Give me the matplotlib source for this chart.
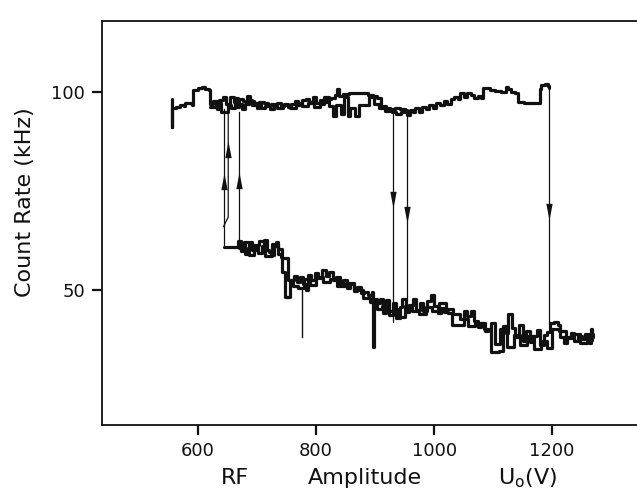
import matplotlib
matplotlib.use("Agg")
import matplotlib.pyplot as plt

plt.rcParams['font.family'] = ['DejaVu Sans']
plt.rcParams['mathtext.fontset'] = 'dejavusans'

INK = "#111111"

# upper branch (high count rate), first sweep
upper_v1 = [555, 555, 556, 562, 570, 576, 578, 586, 590, 592, 600, 606, 612, 618, 620,
            626, 632, 636, 642, 648, 654, 660, 666, 670, 676, 682, 688, 694, 700, 704,
            712, 718, 722, 728, 734, 740, 746, 752, 758, 764, 770, 776, 782, 788, 794,
            800, 806, 812, 818, 826, 832, 835, 838, 846, 856, 866, 878, 888, 896, 904,
            910, 918, 926, 934, 942, 950, 954, 960, 964, 968, 974, 980, 986, 992, 998,
            1004, 1010, 1016, 1022, 1028, 1034, 1040, 1044, 1050, 1056, 1062, 1068, 1074,
            1080, 1083, 1090, 1094, 1104, 1114, 1120, 1122, 1126, 1130, 1138, 1142, 1152,
            1164, 1176, 1179, 1182, 1188, 1193, 1194]
upper_k1 = [98.3, 91.2, 96.0, 96.3, 96.6, 96.5, 97.3, 97.2, 96.8, 100.6, 101.0, 101.2, 100.8, 100.4, 97.0,
            97.6, 95.8, 97.9, 98.6, 97.0, 98.8, 97.4, 96.3, 98.2, 97.6, 99.0, 97.8, 97.2, 95.9, 97.5,
            97.1, 96.8, 95.6, 96.6, 97.2, 96.4, 97.0, 96.2, 96.9, 97.6, 96.8, 97.9, 98.3, 97.4, 98.6,
            97.2, 98.0, 97.5, 98.1, 98.4, 99.1, 100.8, 98.9, 99.5, 99.6, 99.7, 99.6, 99.3, 99.0, 98.4,
            96.4, 95.9, 95.6, 96.0, 95.8, 95.4, 94.2, 95.4, 94.8, 95.9, 95.0, 96.3, 95.8, 96.6, 96.0,
            97.3, 96.7, 97.6, 97.0, 98.2, 98.6, 98.1, 99.8, 98.6, 99.6, 99.2, 98.5, 99.0,
            98.4, 100.9, 101.0, 100.4, 100.3, 100.1, 100.0, 101.3, 100.8, 99.9, 99.7, 97.4, 97.2,
            97.1, 97.3, 100.8, 101.8, 101.9, 101.5, 101.0]

# upper branch, second sweep
upper_v2 = [620, 630, 638, 644, 650, 656, 662, 668, 674, 680, 686, 692, 698, 706, 714,
            724, 734, 744, 756, 766, 776, 786, 796, 806, 814, 822, 828, 834, 842, 848,
            854, 858, 866, 872, 880, 890, 898, 906, 916, 928, 936, 944, 952]
upper_k2 = [96.2, 97.2, 95.0, 94.9, 96.8, 96.0, 98.4, 97.0, 95.8, 96.9, 98.0, 96.6, 97.3, 96.0, 96.5,
            97.0, 96.0, 96.6, 96.0, 97.3, 96.4, 97.2, 96.1, 97.0, 98.8, 96.5, 93.8, 96.8, 94.4, 98.6,
            94.0, 96.0, 93.8, 96.8, 96.6, 98.8, 97.0, 96.0, 95.2, 95.0, 94.4, 94.8, 94.9]

# lower branch (low count rate), first sweep
lower_v1 = [644, 666, 668, 672, 676, 680, 684, 688, 692, 698, 702, 708, 712, 716, 720,
            724, 728, 732, 736, 740, 742, 748, 748, 756, 756, 762, 768, 772, 778, 782,
            786, 792, 798, 804, 810, 816, 822, 828, 834, 840, 846, 852, 858, 864, 870,
            876, 882, 888, 894, 897, 897, 898, 904, 908, 914, 918, 924, 930, 936, 942,
            946, 952, 958, 964, 970, 976, 982, 988, 994, 1000, 1006, 1012, 1016, 1024, 1030,
            1046, 1050, 1056, 1062, 1068, 1074, 1080, 1086, 1092, 1096, 1110, 1116, 1122, 1126,
            1132, 1138, 1144, 1150, 1156, 1162, 1168, 1174, 1180, 1186, 1192, 1196, 1204, 1210,
            1214, 1220, 1226, 1232, 1238, 1244, 1250, 1256, 1262, 1266, 1268]
lower_k1 = [60.9, 60.9, 62.4, 59.8, 61.8, 59.0, 60.6, 62.0, 60.0, 60.8, 59.2, 61.2, 62.6, 60.0, 59.6,
            58.8, 61.0, 62.2, 59.0, 58.4, 54.6, 54.5, 48.2, 48.2, 52.6, 53.4, 52.0, 53.2, 51.6, 50.0,
            53.8, 52.6, 54.4, 53.0, 55.0, 53.6, 54.6, 52.4, 53.2, 51.4, 52.6, 50.6, 51.6, 49.8, 50.8,
            49.2, 49.6, 48.6, 49.4, 48.2, 35.6, 47.6, 46.6, 47.8, 44.2, 47.4, 43.6, 46.8, 43.0, 45.8,
            47.6, 44.4, 46.2, 47.8, 45.0, 46.6, 44.8, 47.2, 48.6, 46.0, 44.2, 45.4, 44.4, 44.2, 41.2,
            41.2, 44.6, 43.4, 44.8, 42.2, 40.6, 41.6, 39.6, 39.8, 34.4, 34.6, 41.0, 39.2, 43.8,
            40.4, 38.0, 41.2, 37.2, 39.6, 36.8, 38.4, 39.8, 36.2, 38.6, 39.4, 41.6, 41.8, 41.2,
            38.2, 36.6, 38.0, 39.2, 37.0, 38.4, 37.6, 38.8, 36.6, 40.2, 37.4]

# lower branch, second sweep
lower_v2 = [670, 678, 686, 694, 704, 714, 726, 736, 742, 752, 760, 770, 780, 790, 800,
            812, 824, 836, 850, 864, 880, 892, 904, 912, 920, 930, 940, 950, 962, 974,
            986, 996, 1008, 1020, 1032, 1044, 1058, 1070, 1084, 1096, 1104, 1112, 1124, 1136, 1146,
            1158, 1170, 1182, 1192, 1200, 1212, 1224, 1236, 1248, 1260, 1270]
lower_k2 = [60.6, 62.0, 58.8, 61.4, 62.4, 58.6, 61.6, 60.4, 58.0, 52.4, 51.0, 50.4, 52.8, 51.2, 53.2,
            52.0, 52.8, 51.0, 51.8, 50.0, 48.0, 47.0, 45.2, 46.0, 44.6, 45.2, 43.2, 46.0, 44.6, 44.0,
            45.6, 44.6, 46.8, 45.2, 44.0, 42.6, 40.8, 41.6, 40.2, 41.6, 36.4, 40.2, 35.6, 38.6, 36.2,
            38.4, 35.2, 37.0, 35.4, 40.2, 39.6, 37.8, 39.0, 36.6, 38.2, 39.0]

# small spike below the second plateau
spike_v = [776, 776]
spike_k = [50.0, 38.1]

# jumps between the branches (thin lines)
jump_v = [[643, 643], [643, 651, 651], [670, 670], [930, 930], [954, 954], [1194, 1194]]
jump_k = [[60.9, 95.8], [66.0, 68.4, 95.8], [61.8, 95.0], [96.0, 42.0], [95.0, 47.6], [101.0, 41.6]]

# arrow heads on the jumps
arrow_v = [643, 651, 670, 930, 954, 1194]
arrow_k = [79.5, 87.5, 79.9, 70.7, 66.9, 67.7]
arrow_up = [True, True, True, False, False, False]

x_ticks = [600, 800, 1000, 1200]
y_ticks = [50, 100]

fig = plt.figure(figsize=(6.37, 4.93), dpi=100)
ax = fig.add_axes([102 / 637, 68 / 493, 1 - 102 / 637, 404 / 493])

for vs, ks in zip(jump_v, jump_k):
    ax.plot(vs, ks, color=INK, lw=0.9)

for vs, ks in [(upper_v1, upper_k1), (upper_v2, upper_k2),
               (lower_v1, lower_k1), (lower_v2, lower_k2)]:
    ax.plot(vs, ks, color=INK, lw=2.3, drawstyle='steps-post',
            solid_joinstyle='round', solid_capstyle='round')
ax.plot(spike_v, spike_k, color=INK, lw=1.0)

head_up = [(-0.19, -1), (0.19, -1), (0, 0), (-0.19, -1)]
head_dn = [(-0.19, 1), (0.19, 1), (0, 0), (-0.19, 1)]
for v, k, up in zip(arrow_v, arrow_k, arrow_up):
    ax.plot([v], [k], marker=head_up if up else head_dn, ms=24, color=INK, mew=0)

ax.set_xlim(437, 1344)
ax.set_ylim(15.9, 117.9)
ax.set_xticks(x_ticks)
ax.set_yticks(y_ticks)
ax.spines['right'].set_visible(False)
for s in ['left', 'bottom', 'top']:
    ax.spines[s].set_linewidth(1.3)
    ax.spines[s].set_color(INK)
ax.tick_params(direction='out', length=7, width=1.6, labelsize=13, pad=5,
               colors=INK)

fig.text(25 / 637, 1 - 202 / 493, "Count Rate (kHz)", rotation=90, fontsize=16,
         ha='center', va='center', color=INK)
fig.text(235 / 637, 1 - 478 / 493, "RF", fontsize=16, ha='center', va='center', color=INK)
fig.text(365 / 637, 1 - 478 / 493, "Amplitude", fontsize=16, ha='center', va='center', color=INK)
fig.text(528 / 637, 1 - 478 / 493, r"U$_\mathregular{o}$(V)", fontsize=16, ha='center',
         va='center', color=INK)

fig.savefig("out.png", dpi=100)
